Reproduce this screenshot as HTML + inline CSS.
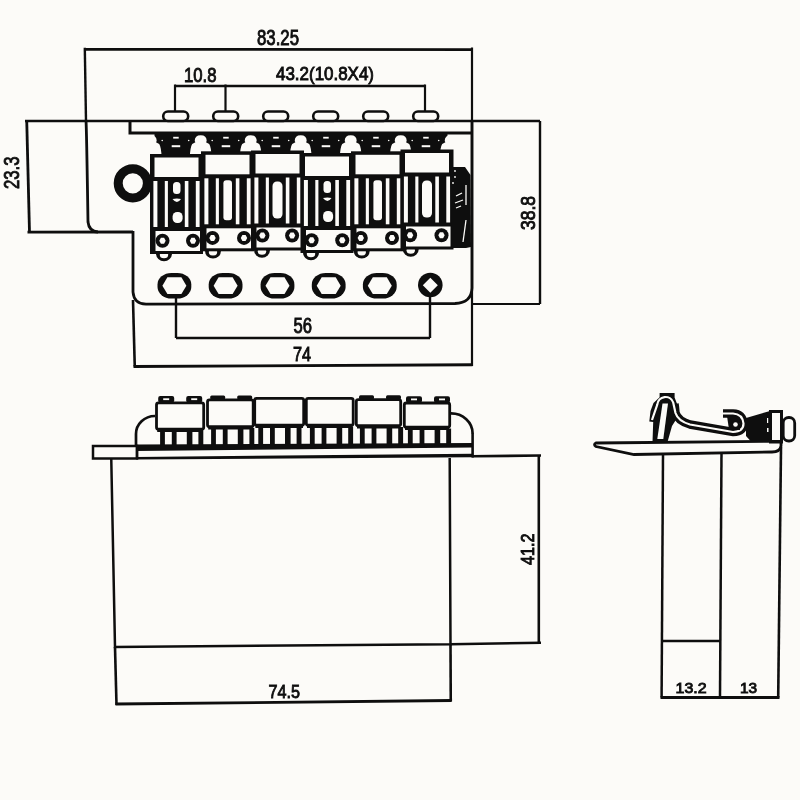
<!DOCTYPE html>
<html><head><meta charset="utf-8"><style>
html,body{margin:0;padding:0;background:#fcfbf8;}
svg{display:block;will-change:transform;}
text{font-family:"Liberation Sans",sans-serif;fill:#0e0e0e;stroke:#0e0e0e;stroke-width:0.9;}
</style></head><body>
<svg width="800" height="800" viewBox="0 0 800 800" fill="#0e0e0e" stroke="#0e0e0e">
<rect width="800" height="800" fill="#fcfbf8" stroke="none"/>
<line x1="84" y1="49.3" x2="473" y2="49.6" stroke-width="2.8"/>
<line x1="84.8" y1="47.8" x2="86" y2="121" stroke-width="2.4"/>
<line x1="472" y1="47.5" x2="472" y2="366" stroke-width="2.2"/>
<line x1="175" y1="86" x2="425" y2="86" stroke-width="2.4"/>
<line x1="175" y1="84.5" x2="175" y2="111" stroke-width="2.2"/>
<line x1="225.5" y1="84.5" x2="225.5" y2="111" stroke-width="2.2"/>
<line x1="425" y1="84.5" x2="425" y2="111" stroke-width="2.2"/>
<line x1="25" y1="121" x2="540" y2="121" stroke-width="2.6"/>
<line x1="26.75" y1="121.5" x2="29.5" y2="232.5" stroke-width="2.8"/>
<line x1="27.5" y1="232.2" x2="133" y2="232" stroke-width="2.8"/>
<path d="M86,121 Q86.5,125 88,222 Q89,231.5 98,232" fill="none" stroke-width="2.8"/>
<path d="M133,231 L133,292 Q134,304 146,304.2 L455,303.5 Q471.5,303 472,288 L472,121" fill="none" stroke-width="2.8"/>
<path d="M130,121 L130,133 L472,133" fill="none" stroke-width="3"/>
<line x1="472" y1="304" x2="540" y2="304" stroke-width="2.2"/>
<line x1="540" y1="121" x2="540" y2="304" stroke-width="2.4"/>
<line x1="176" y1="296" x2="176" y2="338" stroke-width="2.4"/>
<line x1="430" y1="296" x2="430" y2="338" stroke-width="2.4"/>
<line x1="176" y1="338" x2="430" y2="338" stroke-width="2.6"/>
<line x1="133" y1="300" x2="134.75" y2="366.5" stroke-width="2.6"/>
<line x1="133.5" y1="366.5" x2="472.5" y2="364.75" stroke-width="2.8"/>
<rect x="163.2" y="111.5" width="25" height="9.5" rx="4.7" fill="#fcfbf8" stroke-width="2.6"/>
<rect x="213.2" y="111.5" width="25" height="9.5" rx="4.7" fill="#fcfbf8" stroke-width="2.6"/>
<rect x="263.2" y="111.5" width="25" height="9.5" rx="4.7" fill="#fcfbf8" stroke-width="2.6"/>
<rect x="313.2" y="111.5" width="25" height="9.5" rx="4.7" fill="#fcfbf8" stroke-width="2.6"/>
<rect x="363.2" y="111.5" width="25" height="9.5" rx="4.7" fill="#fcfbf8" stroke-width="2.6"/>
<rect x="413.2" y="111.5" width="25" height="9.5" rx="4.7" fill="#fcfbf8" stroke-width="2.6"/>
<circle cx="132.8" cy="183.3" r="14.6" fill="none" stroke-width="9"/>
<rect x="154.5" y="133" width="293" height="24" stroke="none"/>
<path d="M144.7,141 Q144.7,135.3 150.7,135.3 Q156.7,135.3 156.7,141 L156.0,142.2 L159.2,144 Q161.2,147 161.7,158 L139.7,158 Q140.2,147 142.2,144 L145.39999999999998,142.2 Z" fill="#fcfbf8" stroke="none"/>
<path d="M194.7,141 Q194.7,135.3 200.7,135.3 Q206.7,135.3 206.7,141 L206.0,142.2 L209.2,144 Q211.2,147 211.7,158 L189.7,158 Q190.2,147 192.2,144 L195.39999999999998,142.2 Z" fill="#fcfbf8" stroke="none"/>
<path d="M244.7,141 Q244.7,135.3 250.7,135.3 Q256.7,135.3 256.7,141 L256.0,142.2 L259.2,144 Q261.2,147 261.7,158 L239.7,158 Q240.2,147 242.2,144 L245.39999999999998,142.2 Z" fill="#fcfbf8" stroke="none"/>
<path d="M294.7,141 Q294.7,135.3 300.7,135.3 Q306.7,135.3 306.7,141 L306.0,142.2 L309.2,144 Q311.2,147 311.7,158 L289.7,158 Q290.2,147 292.2,144 L295.4,142.2 Z" fill="#fcfbf8" stroke="none"/>
<path d="M344.7,141 Q344.7,135.3 350.7,135.3 Q356.7,135.3 356.7,141 L356.0,142.2 L359.2,144 Q361.2,147 361.7,158 L339.7,158 Q340.2,147 342.2,144 L345.4,142.2 Z" fill="#fcfbf8" stroke="none"/>
<path d="M394.7,141 Q394.7,135.3 400.7,135.3 Q406.7,135.3 406.7,141 L406.0,142.2 L409.2,144 Q411.2,147 411.7,158 L389.7,158 Q390.2,147 392.2,144 L395.4,142.2 Z" fill="#fcfbf8" stroke="none"/>
<path d="M444.7,141 Q444.7,135.3 450.7,135.3 Q456.7,135.3 456.7,141 L456.0,142.2 L459.2,144 Q461.2,147 461.7,158 L439.7,158 Q440.2,147 442.2,144 L445.4,142.2 Z" fill="#fcfbf8" stroke="none"/>
<rect x="173.2" y="136.8" width="5.5" height="1.8" fill="#fcfbf8" stroke="none"/>
<rect x="171.7" y="145.2" width="8.5" height="2" fill="#fcfbf8" stroke="none"/>
<circle cx="162.2" cy="140.5" r="0.8" fill="#fcfbf8" stroke="none"/>
<circle cx="188.7" cy="140.5" r="0.8" fill="#fcfbf8" stroke="none"/>
<rect x="223.2" y="136.8" width="5.5" height="1.8" fill="#fcfbf8" stroke="none"/>
<rect x="221.7" y="145.2" width="8.5" height="2" fill="#fcfbf8" stroke="none"/>
<circle cx="212.2" cy="140.5" r="0.8" fill="#fcfbf8" stroke="none"/>
<circle cx="238.7" cy="140.5" r="0.8" fill="#fcfbf8" stroke="none"/>
<rect x="273.2" y="136.8" width="5.5" height="1.8" fill="#fcfbf8" stroke="none"/>
<rect x="271.7" y="145.2" width="8.5" height="2" fill="#fcfbf8" stroke="none"/>
<circle cx="262.2" cy="140.5" r="0.8" fill="#fcfbf8" stroke="none"/>
<circle cx="288.7" cy="140.5" r="0.8" fill="#fcfbf8" stroke="none"/>
<rect x="323.2" y="136.8" width="5.5" height="1.8" fill="#fcfbf8" stroke="none"/>
<rect x="321.7" y="145.2" width="8.5" height="2" fill="#fcfbf8" stroke="none"/>
<circle cx="312.2" cy="140.5" r="0.8" fill="#fcfbf8" stroke="none"/>
<circle cx="338.7" cy="140.5" r="0.8" fill="#fcfbf8" stroke="none"/>
<rect x="373.2" y="136.8" width="5.5" height="1.8" fill="#fcfbf8" stroke="none"/>
<rect x="371.7" y="145.2" width="8.5" height="2" fill="#fcfbf8" stroke="none"/>
<circle cx="362.2" cy="140.5" r="0.8" fill="#fcfbf8" stroke="none"/>
<circle cx="388.7" cy="140.5" r="0.8" fill="#fcfbf8" stroke="none"/>
<rect x="423.2" y="136.8" width="5.5" height="1.8" fill="#fcfbf8" stroke="none"/>
<rect x="421.7" y="145.2" width="8.5" height="2" fill="#fcfbf8" stroke="none"/>
<circle cx="412.2" cy="140.5" r="0.8" fill="#fcfbf8" stroke="none"/>
<circle cx="438.7" cy="140.5" r="0.8" fill="#fcfbf8" stroke="none"/>
<rect x="157.5" y="272.9" width="33.8" height="25.6" rx="14" ry="11.5" stroke="none"/>
<polygon points="162.4,285.7 167.4,277.3 181.4,277.3 186.4,285.7 181.4,294.09999999999997 167.4,294.09999999999997" fill="#fcfbf8" stroke="none"/>
<rect x="208.7" y="272.9" width="33.8" height="25.6" rx="14" ry="11.5" stroke="none"/>
<polygon points="213.6,285.7 218.6,277.3 232.6,277.3 237.6,285.7 232.6,294.09999999999997 218.6,294.09999999999997" fill="#fcfbf8" stroke="none"/>
<rect x="260.6" y="272.9" width="33.8" height="25.6" rx="14" ry="11.5" stroke="none"/>
<polygon points="265.5,285.7 270.5,277.3 284.5,277.3 289.5,285.7 284.5,294.09999999999997 270.5,294.09999999999997" fill="#fcfbf8" stroke="none"/>
<rect x="311.8" y="272.9" width="33.8" height="25.6" rx="14" ry="11.5" stroke="none"/>
<polygon points="316.7,285.7 321.7,277.3 335.7,277.3 340.7,285.7 335.7,294.09999999999997 321.7,294.09999999999997" fill="#fcfbf8" stroke="none"/>
<rect x="362.90000000000003" y="272.9" width="33.8" height="25.6" rx="14" ry="11.5" stroke="none"/>
<polygon points="367.8,285.7 372.8,277.3 386.8,277.3 391.8,285.7 386.8,294.09999999999997 372.8,294.09999999999997" fill="#fcfbf8" stroke="none"/>
<ellipse cx="430.3" cy="285" rx="12.3" ry="12.2" stroke="none"/>
<polygon points="422.8,285.2 430.3,277.7 437.8,285.2 430.3,292.7" fill="#fcfbf8" stroke="none"/>
<ellipse cx="164" cy="253.5" rx="8" ry="7.8" stroke="none"/>
<ellipse cx="164" cy="254.8" rx="4.2" ry="3.5" fill="#fcfbf8" stroke="none"/>
<rect x="150" y="154" width="53" height="100" stroke="none"/>
<rect x="154.5" y="157.5" width="44" height="19.5" fill="#fcfbf8" stroke="none"/>
<rect x="153.4" y="181" width="4.0" height="46" fill="#fcfbf8" stroke="none"/>
<rect x="164.8" y="181" width="3.099999999999998" height="46" fill="#fcfbf8" stroke="none"/>
<rect x="184.8" y="181" width="3.6000000000000014" height="46" fill="#fcfbf8" stroke="none"/>
<rect x="195.8" y="181" width="3.8000000000000043" height="46" fill="#fcfbf8" stroke="none"/>
<rect x="173" y="182" width="7.5" height="12" rx="3.5" fill="#fcfbf8" stroke="none"/>
<path d="M172.5,199 Q177,198 181,199 Q177,205 172.5,199 Z" fill="#fcfbf8" stroke="none"/>
<rect x="172.6" y="212" width="10" height="11" rx="4.5" fill="#fcfbf8" stroke="none"/>
<rect x="155.5" y="231" width="44.5" height="20" fill="#fcfbf8" stroke="none"/>
<circle cx="162.5" cy="240.8" r="7" stroke="none"/>
<polygon points="159.3,240.8 160.9,237.8 164.1,237.8 165.7,240.8 164.1,243.8 160.9,243.8" fill="#fcfbf8" stroke="none"/>
<circle cx="193" cy="240.8" r="7" stroke="none"/>
<polygon points="189.8,240.8 191.4,237.8 194.6,237.8 196.2,240.8 194.6,243.8 191.4,243.8" fill="#fcfbf8" stroke="none"/>
<ellipse cx="213" cy="250.8" rx="8" ry="7.8" stroke="none"/>
<ellipse cx="213" cy="252.10000000000002" rx="4.2" ry="3.5" fill="#fcfbf8" stroke="none"/>
<rect x="201" y="151.3" width="53" height="100" stroke="none"/>
<rect x="205.5" y="154.8" width="44" height="19.5" fill="#fcfbf8" stroke="none"/>
<rect x="204.4" y="178.3" width="4.0" height="46.0" fill="#fcfbf8" stroke="none"/>
<rect x="215.8" y="178.3" width="3.099999999999998" height="46.0" fill="#fcfbf8" stroke="none"/>
<rect x="235.8" y="178.3" width="3.6000000000000014" height="46.0" fill="#fcfbf8" stroke="none"/>
<rect x="246.8" y="178.3" width="3.8000000000000043" height="46.0" fill="#fcfbf8" stroke="none"/>
<rect x="223.4" y="180.3" width="8.6" height="40" rx="3" fill="#fcfbf8" stroke="none"/>
<rect x="206.5" y="228.3" width="44.5" height="20" fill="#fcfbf8" stroke="none"/>
<circle cx="212.5" cy="237.9" r="7" stroke="none"/>
<polygon points="209.3,237.9 210.9,234.9 214.1,234.9 215.7,237.9 214.1,240.9 210.9,240.9" fill="#fcfbf8" stroke="none"/>
<circle cx="244" cy="237.9" r="7" stroke="none"/>
<polygon points="240.8,237.9 242.4,234.9 245.6,234.9 247.2,237.9 245.6,240.9 242.4,240.9" fill="#fcfbf8" stroke="none"/>
<ellipse cx="262" cy="250.0" rx="8" ry="7.8" stroke="none"/>
<ellipse cx="262" cy="251.3" rx="4.2" ry="3.5" fill="#fcfbf8" stroke="none"/>
<rect x="251" y="150.5" width="53" height="100" stroke="none"/>
<rect x="255.5" y="154.0" width="44" height="19.5" fill="#fcfbf8" stroke="none"/>
<rect x="254.4" y="177.5" width="4.0" height="46.0" fill="#fcfbf8" stroke="none"/>
<rect x="265.8" y="177.5" width="3.099999999999998" height="46.0" fill="#fcfbf8" stroke="none"/>
<rect x="285.8" y="177.5" width="3.6000000000000014" height="46.0" fill="#fcfbf8" stroke="none"/>
<rect x="296.8" y="177.5" width="3.8000000000000043" height="46.0" fill="#fcfbf8" stroke="none"/>
<rect x="272.5" y="181.5" width="10" height="37" rx="4.5" fill="#fcfbf8" stroke="none"/>
<rect x="256.5" y="227.5" width="44.5" height="20" fill="#fcfbf8" stroke="none"/>
<circle cx="262.4" cy="235.5" r="7" stroke="none"/>
<polygon points="259.2,235.5 260.79999999999995,232.5 264.0,232.5 265.59999999999997,235.5 264.0,238.5 260.79999999999995,238.5" fill="#fcfbf8" stroke="none"/>
<circle cx="292.1" cy="235.5" r="7" stroke="none"/>
<polygon points="288.90000000000003,235.5 290.5,232.5 293.70000000000005,232.5 295.3,235.5 293.70000000000005,238.5 290.5,238.5" fill="#fcfbf8" stroke="none"/>
<ellipse cx="311.0" cy="252.5" rx="8" ry="7.8" stroke="none"/>
<ellipse cx="311.0" cy="253.8" rx="4.2" ry="3.5" fill="#fcfbf8" stroke="none"/>
<rect x="300.5" y="153" width="53" height="100" stroke="none"/>
<rect x="305.0" y="156.5" width="44" height="19.5" fill="#fcfbf8" stroke="none"/>
<rect x="303.9" y="180" width="4.0" height="46" fill="#fcfbf8" stroke="none"/>
<rect x="315.3" y="180" width="3.099999999999998" height="46" fill="#fcfbf8" stroke="none"/>
<rect x="335.3" y="180" width="3.6000000000000014" height="46" fill="#fcfbf8" stroke="none"/>
<rect x="346.3" y="180" width="3.8000000000000043" height="46" fill="#fcfbf8" stroke="none"/>
<rect x="323.5" y="181" width="7.5" height="12" rx="3.5" fill="#fcfbf8" stroke="none"/>
<path d="M323.0,198 Q327.5,197 331.5,198 Q327.5,204 323.0,198 Z" fill="#fcfbf8" stroke="none"/>
<rect x="323.1" y="211" width="10" height="11" rx="4.5" fill="#fcfbf8" stroke="none"/>
<rect x="306.0" y="230" width="44.5" height="20" fill="#fcfbf8" stroke="none"/>
<circle cx="311.6" cy="240.3" r="7" stroke="none"/>
<polygon points="308.40000000000003,240.3 310.0,237.3 313.20000000000005,237.3 314.8,240.3 313.20000000000005,243.3 310.0,243.3" fill="#fcfbf8" stroke="none"/>
<circle cx="342.25" cy="240.3" r="7" stroke="none"/>
<polygon points="339.05,240.3 340.65,237.3 343.85,237.3 345.45,240.3 343.85,243.3 340.65,243.3" fill="#fcfbf8" stroke="none"/>
<ellipse cx="361.75" cy="250.8" rx="8" ry="7.8" stroke="none"/>
<ellipse cx="361.75" cy="252.10000000000002" rx="4.2" ry="3.5" fill="#fcfbf8" stroke="none"/>
<rect x="351" y="151.3" width="53" height="100" stroke="none"/>
<rect x="355.5" y="154.8" width="44" height="19.5" fill="#fcfbf8" stroke="none"/>
<rect x="354.4" y="178.3" width="4.0" height="46.0" fill="#fcfbf8" stroke="none"/>
<rect x="365.8" y="178.3" width="3.099999999999998" height="46.0" fill="#fcfbf8" stroke="none"/>
<rect x="385.8" y="178.3" width="3.6000000000000014" height="46.0" fill="#fcfbf8" stroke="none"/>
<rect x="396.8" y="178.3" width="3.8000000000000043" height="46.0" fill="#fcfbf8" stroke="none"/>
<rect x="373.4" y="180.3" width="8.6" height="40" rx="3" fill="#fcfbf8" stroke="none"/>
<rect x="356.5" y="228.3" width="44.5" height="20" fill="#fcfbf8" stroke="none"/>
<circle cx="360.8" cy="238.0" r="7" stroke="none"/>
<polygon points="357.6,238.0 359.2,235.0 362.40000000000003,235.0 364.0,238.0 362.40000000000003,241.0 359.2,241.0" fill="#fcfbf8" stroke="none"/>
<circle cx="392" cy="238.0" r="7" stroke="none"/>
<polygon points="388.8,238.0 390.4,235.0 393.6,235.0 395.2,238.0 393.6,241.0 390.4,241.0" fill="#fcfbf8" stroke="none"/>
<ellipse cx="410.75" cy="249.0" rx="8" ry="7.8" stroke="none"/>
<ellipse cx="410.75" cy="250.3" rx="4.2" ry="3.5" fill="#fcfbf8" stroke="none"/>
<rect x="400.5" y="149.5" width="53" height="100" stroke="none"/>
<rect x="405.0" y="153.0" width="44" height="19.5" fill="#fcfbf8" stroke="none"/>
<rect x="403.9" y="176.5" width="4.0" height="46.0" fill="#fcfbf8" stroke="none"/>
<rect x="415.3" y="176.5" width="3.099999999999998" height="46.0" fill="#fcfbf8" stroke="none"/>
<rect x="435.3" y="176.5" width="3.6000000000000014" height="46.0" fill="#fcfbf8" stroke="none"/>
<rect x="446.3" y="176.5" width="3.8000000000000043" height="46.0" fill="#fcfbf8" stroke="none"/>
<rect x="422.0" y="180.5" width="10" height="37" rx="4.5" fill="#fcfbf8" stroke="none"/>
<rect x="406.0" y="226.5" width="44.5" height="20" fill="#fcfbf8" stroke="none"/>
<circle cx="410.1" cy="235.3" r="7" stroke="none"/>
<polygon points="406.90000000000003,235.3 408.5,232.3 411.70000000000005,232.3 413.3,235.3 411.70000000000005,238.3 408.5,238.3" fill="#fcfbf8" stroke="none"/>
<circle cx="441.5" cy="235.3" r="7" stroke="none"/>
<polygon points="438.3,235.3 439.9,232.3 443.1,232.3 444.7,235.3 443.1,238.3 439.9,238.3" fill="#fcfbf8" stroke="none"/>
<path d="M450,167 L465,167 L470.5,175 L471,247 L466,248 L452,248 Z" stroke="none"/>
<line x1="456" y1="196" x2="462" y2="193" stroke="#fcfbf8" stroke-width="1.3"/>
<line x1="455" y1="203" x2="463" y2="200" stroke="#fcfbf8" stroke-width="1.3"/>
<line x1="456" y1="208" x2="461" y2="206" stroke="#fcfbf8" stroke-width="1.3"/>
<line x1="466" y1="220" x2="463" y2="242" stroke="#fcfbf8" stroke-width="1.3"/>
<line x1="466" y1="185" x2="466" y2="205" stroke="#fcfbf8" stroke-width="1.3"/>
<circle cx="455" cy="171" r="0.9" fill="#fcfbf8" stroke="none"/>
<circle cx="455" cy="177" r="0.9" fill="#fcfbf8" stroke="none"/>
<circle cx="453" cy="183" r="0.9" fill="#fcfbf8" stroke="none"/>
<rect x="93" y="446" width="44" height="12.5" fill="none" stroke-width="2.5"/>
<polygon points="136,444.5 472,443 472,447.4 136,451" stroke="none"/>
<polygon points="136,457 472,453.7 472,457.3 136,459.5" stroke="none"/>
<line x1="137" y1="446" x2="137" y2="458" stroke-width="2.4"/>
<line x1="472.6" y1="433" x2="472.6" y2="457.5" stroke-width="2.6"/>
<line x1="472" y1="456.3" x2="541" y2="455.5" stroke-width="2.6"/>
<path d="M136,446 L136,434 A19 18 0 0 1 155,416" fill="none" stroke-width="2.7"/>
<path d="M451,413.4 A21.5 20 0 0 1 472.6,433.4" fill="none" stroke-width="2.7"/>
<rect x="160.1" y="430.5" width="4.8" height="16.5" stroke="none"/>
<rect x="171.79999999999998" y="430.5" width="4.8" height="16.5" stroke="none"/>
<rect x="186.79999999999998" y="430.5" width="5.6" height="16.5" stroke="none"/>
<rect x="198.39999999999998" y="430.5" width="4.9" height="16.5" stroke="none"/>
<rect x="157.2" y="429.5" width="45.80000000000001" height="2.5" stroke="none"/>
<rect x="156.5" y="402.8" width="47.20000000000001" height="26.4" rx="2" fill="#fcfbf8" stroke-width="2.8"/>
<rect x="211.1" y="428" width="4.8" height="19" stroke="none"/>
<rect x="222.79999999999998" y="428" width="4.8" height="19" stroke="none"/>
<rect x="237.79999999999998" y="428" width="5.6" height="19" stroke="none"/>
<rect x="249.39999999999998" y="428" width="4.9" height="19" stroke="none"/>
<rect x="208.2" y="427" width="44.30000000000001" height="2.5" stroke="none"/>
<rect x="207.5" y="399.8" width="45.70000000000001" height="26.9" rx="2" fill="#fcfbf8" stroke-width="2.8"/>
<rect x="258.3" y="426.5" width="4.8" height="20.5" stroke="none"/>
<rect x="270.0" y="426.5" width="4.8" height="20.5" stroke="none"/>
<rect x="285.0" y="426.5" width="5.6" height="20.5" stroke="none"/>
<rect x="296.6" y="426.5" width="4.9" height="20.5" stroke="none"/>
<rect x="255.4" y="425.5" width="47.599999999999994" height="2.5" stroke="none"/>
<rect x="254.70000000000002" y="398.3" width="48.99999999999999" height="26.9" rx="2" fill="#fcfbf8" stroke-width="2.8"/>
<rect x="309.9" y="426.5" width="4.8" height="20.5" stroke="none"/>
<rect x="321.6" y="426.5" width="4.8" height="20.5" stroke="none"/>
<rect x="336.6" y="426.5" width="5.6" height="20.5" stroke="none"/>
<rect x="348.2" y="426.5" width="4.9" height="20.5" stroke="none"/>
<rect x="307" y="425.5" width="45.5" height="2.5" stroke="none"/>
<rect x="306.3" y="398.3" width="46.9" height="26.9" rx="2" fill="#fcfbf8" stroke-width="2.8"/>
<rect x="359.9" y="427" width="4.8" height="20" stroke="none"/>
<rect x="371.6" y="427" width="4.8" height="20" stroke="none"/>
<rect x="386.6" y="427" width="5.6" height="20" stroke="none"/>
<rect x="398.2" y="427" width="4.9" height="20" stroke="none"/>
<rect x="357" y="426" width="43" height="2.5" stroke="none"/>
<rect x="356.3" y="399.6" width="44.4" height="26.099999999999987" rx="2" fill="#fcfbf8" stroke-width="2.8"/>
<rect x="407.9" y="428.5" width="4.8" height="18.5" stroke="none"/>
<rect x="419.6" y="428.5" width="4.8" height="18.5" stroke="none"/>
<rect x="434.6" y="428.5" width="5.6" height="18.5" stroke="none"/>
<rect x="446.2" y="428.5" width="4.9" height="18.5" stroke="none"/>
<rect x="405" y="427.5" width="44" height="2.5" stroke="none"/>
<rect x="404.3" y="403.0" width="45.4" height="24.20000000000001" rx="2" fill="#fcfbf8" stroke-width="2.8"/>
<rect x="158.2" y="396.0" width="16" height="6.5" rx="2" stroke="none"/>
<rect x="163.2" y="398.3" width="6" height="1.8" fill="#fcfbf8" stroke="none"/>
<rect x="186.2" y="396.0" width="16" height="6.5" rx="2" stroke="none"/>
<rect x="191.2" y="398.3" width="6" height="1.8" fill="#fcfbf8" stroke="none"/>
<rect x="210.2" y="395.5" width="15" height="4" rx="1.5" stroke="none"/>
<rect x="237.2" y="395.5" width="15" height="4" rx="1.5" stroke="none"/>
<rect x="359" y="395.3" width="15" height="4" rx="1.5" stroke="none"/>
<rect x="386" y="395.3" width="15" height="4" rx="1.5" stroke="none"/>
<rect x="406" y="396.2" width="16" height="6.5" rx="2" stroke="none"/>
<rect x="411" y="398.5" width="6" height="1.8" fill="#fcfbf8" stroke="none"/>
<rect x="434" y="396.2" width="16" height="6.5" rx="2" stroke="none"/>
<rect x="439" y="398.5" width="6" height="1.8" fill="#fcfbf8" stroke="none"/>
<path d="M111.25,458 L115,647 L450.5,644.25 L449.7,458" fill="none" stroke-width="2.5"/>
<line x1="450.5" y1="644.25" x2="541" y2="642.75" stroke-width="2.6"/>
<line x1="538.8" y1="455" x2="538.8" y2="643.5" stroke-width="2.6"/>
<line x1="115" y1="647" x2="116.5" y2="705" stroke-width="2.6"/>
<line x1="450.5" y1="644" x2="450.75" y2="701.5" stroke-width="2.6"/>
<line x1="115.5" y1="704" x2="451.5" y2="700.5" stroke-width="2.8"/>
<path d="M596,443 L781,441.3 L781,446 Q780,452 772,452 L634,454.5 L596,446.5 Q593,444.5 596,443 Z" fill="none" stroke-width="2.8"/>
<line x1="663" y1="454" x2="661.6" y2="697.5" stroke-width="2.5"/>
<line x1="721.5" y1="453" x2="720" y2="697.5" stroke-width="2.5"/>
<line x1="781" y1="447" x2="778.2" y2="697.5" stroke-width="2.6"/>
<line x1="662" y1="641" x2="720.8" y2="641" stroke-width="2.6"/>
<line x1="660.5" y1="697.6" x2="779.5" y2="697.6" stroke-width="3"/>
<path d="M652.5,442 L653.2,422 L649.3,421.5 L650.5,411 L653.5,403 L659.6,397.2 L659.6,393 L674.6,393 L674.6,397.5 L677.5,405 L679,415 L672,426 L667.5,442 Z" stroke="none"/>
<path d="M674.5,404 Q675,407 675.5,413 Q678,421 690,424.5 L733,432 Q743.5,431.5 743.5,423.5 Q742.5,414 733,413.5 L723,413.5" fill="none" stroke-width="8.5" stroke-linecap="butt"/>
<path d="M652,420 L657.3,404.5 A8.2 8.2 0 0 1 673.2,402.5 L675.5,413 Q678,421 690,424.5 L733,432 Q743.5,431.5 743.5,423.5 Q742.5,414 733,413.5 L723,413.5" fill="none" stroke="#fcfbf8" stroke-width="2.2"/>
<polygon points="657.3,439 663.3,439 668,403.5 662.5,403.5" fill="#fcfbf8" stroke="none"/>
<polygon points="727,416 739,417 740,430 729,429.5" stroke="none"/>
<circle cx="735.5" cy="424.5" r="2.3" fill="#fcfbf8" stroke="none"/>
<polygon points="746,418 770,411 770,441.5 751,441.5 746,436" stroke="none"/>
<rect x="767" y="418" width="1.2" height="5" fill="#fcfbf8" stroke="none"/>
<rect x="767" y="428" width="1.5" height="4" fill="#fcfbf8" stroke="none"/>
<rect x="770.5" y="411.5" width="11" height="30.5" fill="none" stroke-width="3"/>
<rect x="783.2" y="417.5" width="11.5" height="23.5" rx="5.5" fill="#fcfbf8" stroke-width="2.8"/>
<text x="257.00" y="45.00" font-size="21.17" textLength="42.03" lengthAdjust="spacingAndGlyphs">83.25</text>
<text x="184.00" y="82.00" font-size="19.75" textLength="32.56" lengthAdjust="spacingAndGlyphs">10.8</text>
<text x="276.00" y="80.00" font-size="18.02" textLength="98.01" lengthAdjust="spacingAndGlyphs">43.2(10.8X4)</text>
<text transform="translate(19.00,189.00) rotate(-90)" font-size="22.51" textLength="32.57" lengthAdjust="spacingAndGlyphs">23.3</text>
<text transform="translate(535.00,230.00) rotate(-90)" font-size="19.62" textLength="34.06" lengthAdjust="spacingAndGlyphs">38.8</text>
<text x="293.50" y="333.00" font-size="21.16" textLength="18.54" lengthAdjust="spacingAndGlyphs">56</text>
<text x="293.00" y="361.00" font-size="20.07" textLength="18.11" lengthAdjust="spacingAndGlyphs">74</text>
<text transform="translate(534.00,565.00) rotate(-90)" font-size="18.31" textLength="31.55" lengthAdjust="spacingAndGlyphs">41.2</text>
<text x="268.50" y="698.00" font-size="19.06" textLength="31.53" lengthAdjust="spacingAndGlyphs">74.5</text>
<text x="675.50" y="692.50" font-size="15.30" textLength="31.07" lengthAdjust="spacingAndGlyphs">13.2</text>
<text x="740.00" y="692.50" font-size="15.30" textLength="17.19" lengthAdjust="spacingAndGlyphs">13</text>
</svg></body></html>
